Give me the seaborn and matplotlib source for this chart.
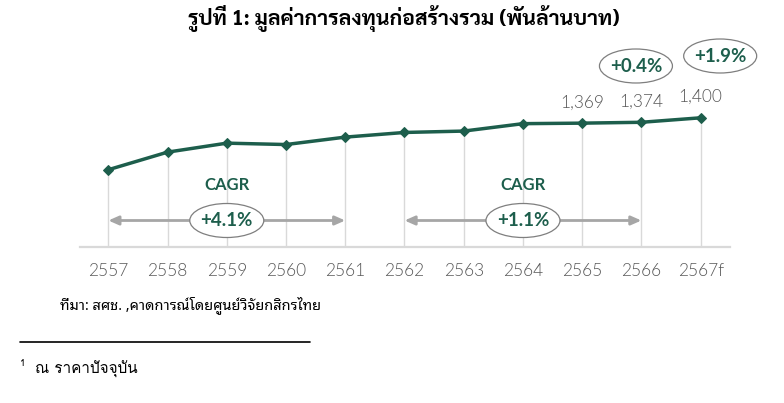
import matplotlib
matplotlib.use("Agg")
import matplotlib.pyplot as plt
from matplotlib.patches import Ellipse
import seaborn as sns
import pandas as pd

# ---- data ----
years = ["2557", "2558", "2559", "2560", "2561", "2562", "2563", "2564", "2565", "2566", "2567f"]
values = [1099, 1201, 1253, 1245, 1288, 1315, 1323, 1366, 1369, 1374, 1400]
value_labels = ["", "", "", "", "", "", "", "", "1,369", "1,374", "1,400"]
cagr_starts = [0, 5]
cagr_ends = [4, 9]
cagr_texts = ["+4.1%", "+1.1%"]
growth_index = [9, 10]
growth_texts = ["+0.4%", "+1.9%"]
title = "รูปที่ 1: มูลค่าการลงทุนก่อสร้างรวม (พันล้านบาท)"
source = "ที่มา: สศช. ,คาดการณ์โดยศูนย์วิจัยกสิกรไทย"
footnote = "ณ ราคาปัจจุบัน"

sns.set_theme(style="white")
plt.rcParams["font.family"] = ["Lato", "DejaVu Sans"]

df = pd.DataFrame({"x": range(len(years)), "v": values})

W, H = 784, 403
fig = plt.figure(figsize=(W / 100, H / 100), dpi=100)
fig.patch.set_facecolor("white")
left, right, top, bottom = 80, 730, 60, 246.5
ax = fig.add_axes([left / W, 1 - bottom / H, (right - left) / W, (bottom - top) / H])

green = "#1d5e4c"
grey_txt = "#595959"
ymin, ymax = 654, 1735
ax.set_xlim(-0.478, 10.495)
ax.set_ylim(ymin, ymax)

# scale helpers (pixels -> data units)
px_x = (10.495 + 0.478) / (right - left)
px_y = (ymax - ymin) / (bottom - top)

def ypix(p):
    return ymin + (bottom - p) * px_y

ax.vlines(df["x"], ymin, df["v"], color="#d9d9d9", lw=1.0, zorder=1)
sns.lineplot(data=df, x="x", y="v", ax=ax, color=green, lw=2.5, marker="D",
             markersize=5.5, markeredgecolor=green, zorder=5)

for s in ["top", "right", "left"]:
    ax.spines[s].set_visible(False)
ax.spines["bottom"].set_color("#d9d9d9")
ax.spines["bottom"].set_linewidth(1.6)
ax.set_yticks([])
ax.set_xticks(range(len(years)))
ax.set_xticklabels(years, fontsize=12.5, color=grey_txt, fontweight=300)
ax.tick_params(axis="x", length=0, pad=12)
ax.set_xlabel("")
ax.set_ylabel("")

for i, lab in enumerate(value_labels):
    if lab:
        ax.annotate(lab, (i, values[i]), xytext=(0, 15), textcoords="offset points",
                    ha="center", va="center", fontsize=12.5, color=grey_txt, fontweight=300)

# CAGR arrows with ovals
y_arrow = ypix(220.5)
y_cagr = ypix(185)
for s, e, t in zip(cagr_starts, cagr_ends, cagr_texts):
    ax.annotate("", xy=(e, y_arrow), xytext=(s, y_arrow),
                arrowprops=dict(arrowstyle="<|-|>,head_length=0.5,head_width=0.22",
                                color="#a6a6a6", lw=2.0, shrinkA=0, shrinkB=0), zorder=2)
    mid = (s + e) / 2
    ax.add_patch(Ellipse((mid, y_arrow), 74 * px_x, 34 * px_y, facecolor="white",
                         edgecolor="#7f7f7f", lw=0.9, zorder=3))
    ax.text(mid, y_arrow, t, ha="center", va="center", fontsize=13.5, color=green,
            fontweight="bold", zorder=4)
    ax.text(mid, y_cagr, "CAGR", ha="center", va="center", fontsize=12, color=green,
            fontweight="bold", zorder=4)

# growth ovals
offsets = [(-5.5, 66), (19.5, 56)]
for i, t, (dx, py) in zip(growth_index, growth_texts, offsets):
    cx = i + dx * px_x
    cy = ypix(py)
    ax.add_patch(Ellipse((cx, cy), 73 * px_x, 34 * px_y, facecolor="white",
                         edgecolor="#7f7f7f", lw=0.9, zorder=3, clip_on=False))
    ax.text(cx, cy, t, ha="center", va="center", fontsize=13.5, color=green,
            fontweight="bold", zorder=4, clip_on=False)

# title, source, footnote
fig.text(404 / W, 1 - 18 / H, title, ha="center", va="center", fontsize=15.2,
         fontweight="bold", color="black", family=["Sarabun", "DejaVu Sans"])
fig.text(60.5 / W, 1 - 305 / H, source, ha="left", va="center", fontsize=10.5,
         color="black", family=["Noto Sans Thai Looped", "DejaVu Sans"])
fig.add_artist(plt.Line2D([20 / W, 310 / W], [1 - 342.3 / H, 1 - 342.3 / H],
                          color="black", lw=1.2))
fig.text(20 / W, 1 - 363 / H, "1", ha="left", va="center", fontsize=7,
         color="black", family=["Loma", "DejaVu Sans"])
fig.text(35 / W, 1 - 369 / H, footnote, ha="left", va="center", fontsize=11,
         color="black", family=["Loma", "DejaVu Sans"])

fig.savefig("out.png", dpi=100)
